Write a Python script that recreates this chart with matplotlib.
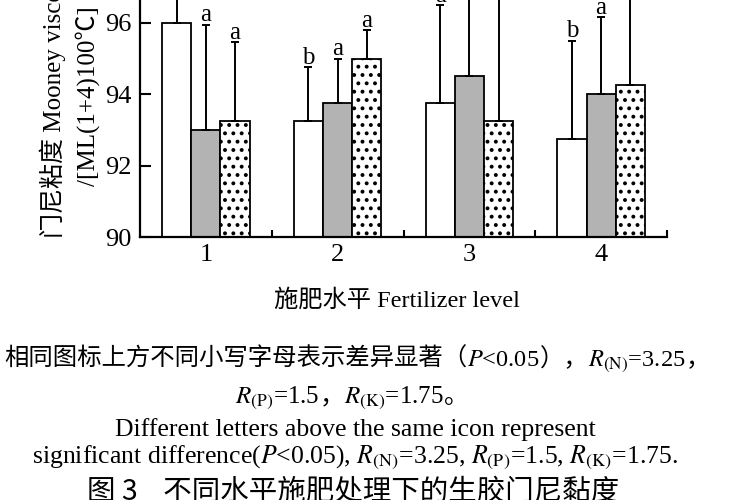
import matplotlib
matplotlib.use("Agg")
import matplotlib.pyplot as plt
import numpy as np

plt.rcParams["font.family"] = ["Liberation Serif", "Noto Sans CJK SC"]
plt.rcParams["mathtext.fontset"] = "stix"
plt.rcParams["hatch.linewidth"] = 1.6

# fertilizer levels and the three treatments (white / grey / dotted)
levels = ["1", "2", "3", "4"]
n_mean = [96.0, 93.25, 93.75, 92.75]
p_mean = [93.0, 93.75, 94.5, 94.0]
k_mean = [93.25, 95.0, 93.25, 94.25]
n_err = [1.5, 1.5, 2.75, 2.75]
p_err = [2.95, 1.25, 3.0, 2.15]
k_err = [2.2, 0.8, 4.0, 3.0]
n_letters = ["a", "b", "a", "b"]
p_letters = ["a", "a", "a", "a"]
k_letters = ["a", "a", "a", "a"]

W, H = 750, 500
fig = plt.figure(figsize=(7.5, 5), dpi=100)
ax = fig.add_axes([140 / W, 1 - 237 / H, 527 / W, 237 / H])

x = np.arange(1, len(levels) + 1)
bw = 0.222
series = [
    (n_mean, n_err, n_letters, dict(facecolor="white")),
    (p_mean, p_err, p_letters, dict(facecolor="#b3b3b3")),
    (k_mean, k_err, k_letters, dict(facecolor="white", hatch="..")),
]
for i, (m, e, lets, style) in enumerate(series):
    xi = x + (i - 1) * bw
    ax.bar(xi, m, bw, edgecolor="black", linewidth=1.3, zorder=2, **style)
    ax.errorbar(xi, m, yerr=[np.zeros(len(m)), e], fmt="none", ecolor="black",
                elinewidth=1.4, capsize=3, capthick=1.4, zorder=3)
    for xx, mm, ee, ll in zip(xi, m, e, lets):
        ax.text(xx, mm + ee + 0.09, ll, ha="center", va="baseline", fontsize=18,
                clip_on=True)

ax.set_xlim(0.5, 4.5)
ax.set_ylim(90, 96.64)
ax.set_yticks([90, 92, 94, 96])
ax.set_xticks(x)
ax.set_xticklabels(levels)
ax.set_xticks([1.5, 2.5, 3.5, 4.5], minor=True)
for s in ["top", "right"]:
    ax.spines[s].set_visible(False)
for s in ["left", "bottom"]:
    ax.spines[s].set_linewidth(1.6)
ax.tick_params(axis="y", direction="in", length=8, width=1.5, labelsize=19, pad=6)
ax.tick_params(axis="x", which="major", length=0, labelsize=19, pad=5)
ax.tick_params(axis="x", which="minor", direction="in", length=5, width=1.5)

fig.text(53 / W, 1 - 96 / H, "门尼粘度 Mooney viscosity", rotation=90,
         ha="center", va="center", fontsize=18)
fig.text(88 / W, 1 - 96 / H, "/[ML(1+4)100℃]", rotation=90,
         ha="center", va="center", fontsize=18)
fig.text(397 / W, 1 - 300 / H, "施肥水平 Fertilizer level", ha="center",
         va="center", fontsize=17.5)


def line(pieces, yb, fs, xc=375):
    ts = [fig.text(0, 1 - yb / H, p, fontsize=fs, ha="left", va="baseline")
          for p in pieces]
    r = fig.canvas.get_renderer()
    ws = [t.get_window_extent(r).width for t in ts]
    x0 = xc - sum(ws) / 2
    for t, w in zip(ts, ws):
        t.set_x(x0 / W)
        x0 += w


line(["相同图标上方不同小写字母表示差异显著（", "$P$<0.05", "），",
      "$R_{\\rm (N)}$=3.25", "，"], 366, 17.6, xc=357)
line(["$R_{\\rm (P)}$=1.5", "，", "$R_{\\rm (K)}$=1.75", "。"], 403, 18, xc=352)
fig.text(355 / W, 1 - 436 / H, "Different letters above the same icon represent",
         ha="center", va="baseline", fontsize=18.5)
fig.text(355 / W, 1 - 463 / H,
         "significant difference($P$<0.05), $R_{\\rm (N)}$=3.25, "
         "$R_{\\rm (P)}$=1.5, $R_{\\rm (K)}$=1.75.",
         ha="center", va="baseline", fontsize=18.5)
fig.text(353 / W, 1 - 492 / H, "图 3    不同水平施肥处理下的生胶门尼黏度",
         ha="center", va="center", fontsize=20.5, fontweight="medium",
         family=["Noto Sans CJK SC"])

fig.savefig("out.png", dpi=100)
